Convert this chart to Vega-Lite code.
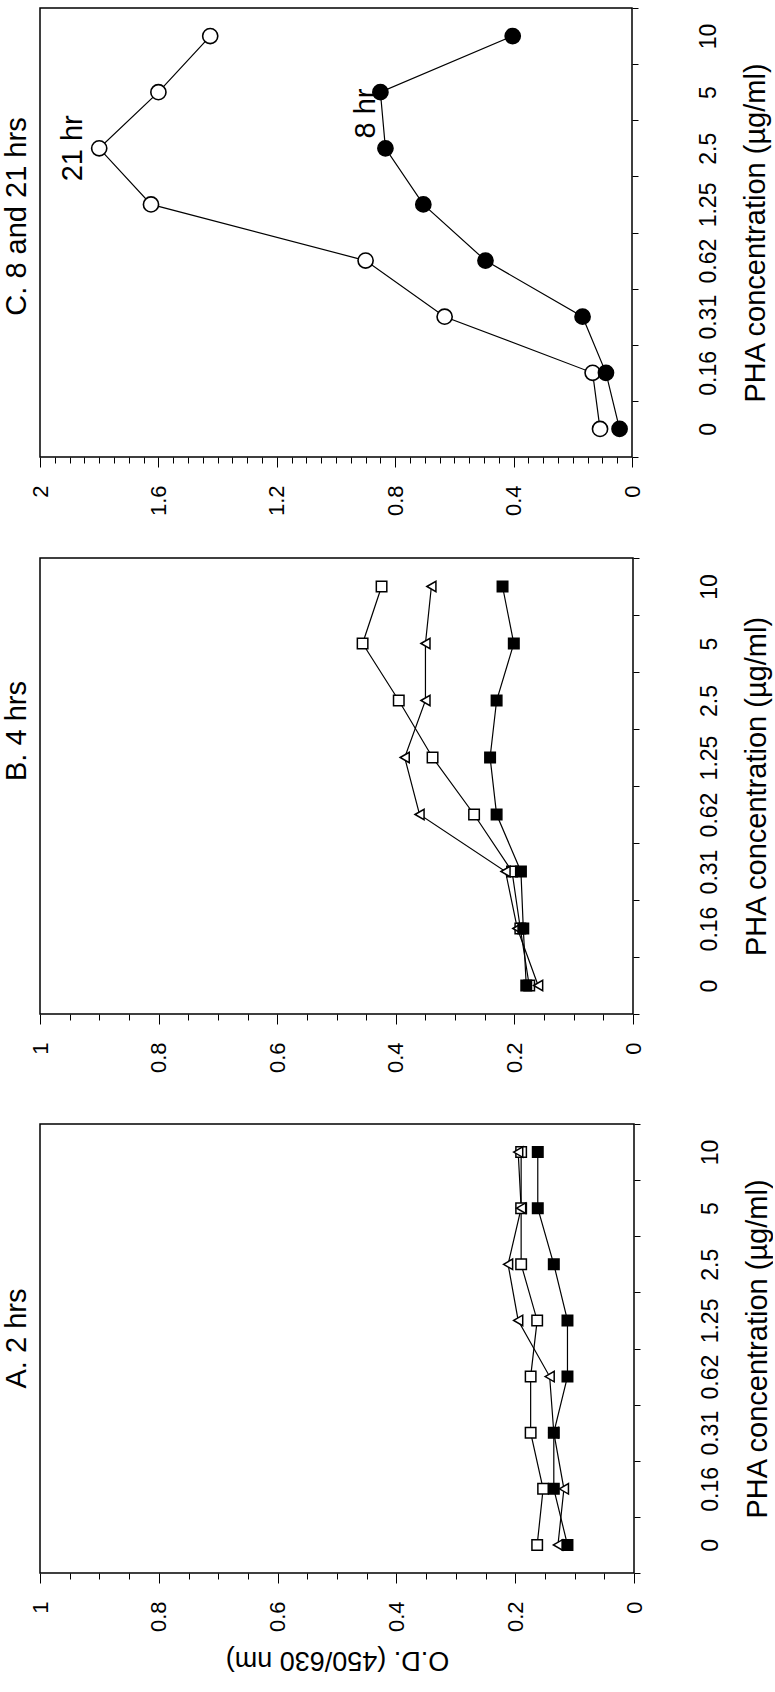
{
  "$schema": "https://vega.github.io/schema/vega-lite/v6.json",
  "padding": {"left": 2, "top": 6, "right": 0, "bottom": 0},
  "background": "white",
  "config": {
    "font": "Liberation Sans",
    "view": {"stroke": "black", "strokeWidth": 1.5},
    "axis": {"labelFont": "Liberation Sans", "titleFont": "Liberation Sans", "labelColor": "black", "titleColor": "black", "tickColor": "black", "domainColor": "black", "titleFontWeight": "normal", "grid": false},
    "title": {"font": "Liberation Sans", "fontWeight": "normal", "color": "black", "fontSize": 29}
  },
  "spacing": 39,
  "vconcat": [
    {
      "width": 592, "height": 449,
      "title": {"text": "C. 8 and 21 hrs", "orient": "left", "anchor": "middle", "offset": -3, "dx": 16},
      "data": {"values": [
        {"series": "21 hr", "conc": 0, "od": 0.108},
        {"series": "21 hr", "conc": 0.16, "od": 0.133},
        {"series": "21 hr", "conc": 0.31, "od": 0.633},
        {"series": "21 hr", "conc": 0.62, "od": 0.9},
        {"series": "21 hr", "conc": 1.25, "od": 1.625},
        {"series": "21 hr", "conc": 2.5, "od": 1.8},
        {"series": "21 hr", "conc": 5, "od": 1.6},
        {"series": "21 hr", "conc": 10, "od": 1.425},
        {"series": "8 hr", "conc": 0, "od": 0.042},
        {"series": "8 hr", "conc": 0.16, "od": 0.088},
        {"series": "8 hr", "conc": 0.31, "od": 0.167},
        {"series": "8 hr", "conc": 0.62, "od": 0.495},
        {"series": "8 hr", "conc": 1.25, "od": 0.705},
        {"series": "8 hr", "conc": 2.5, "od": 0.833},
        {"series": "8 hr", "conc": 5, "od": 0.85},
        {"series": "8 hr", "conc": 10, "od": 0.403}
      ]},
      "encoding": {
        "x": {"field": "od", "type": "quantitative",
          "scale": {"domain": [0, 2], "reverse": true, "nice": false, "zero": true},
          "axis": {"orient": "bottom", "title": null, "domain": false,
            "values": [0,0.05,0.1,0.15,0.2,0.25,0.3,0.35,0.4,0.45,0.5,0.55,0.6,0.65,0.7,0.75,0.8,0.85,0.9,0.95,1,1.05,1.1,1.15,1.2,1.25,1.3,1.35,1.4,1.45,1.5,1.55,1.6,1.65,1.7,1.75,1.8,1.85,1.9,1.95,2],
            "labelExpr": "abs(datum.value*2.5 - round(datum.value*2.5)) < 0.001 ? format(datum.value, '~g') : ''",
            "tickSize": {"condition": {"test": "abs(datum.value*2.5 - round(datum.value*2.5)) < 0.001", "value": 10}, "value": 6},
            "labelAngle": 270, "labelAlign": "right", "labelBaseline": "middle", "labelPadding": 18,
            "labelFontSize": 22, "labelFlush": false, "labelOverlap": false, "labelBound": false}},
        "y": {"field": "conc", "type": "ordinal", "sort": "descending",
          "scale": {"type": "band", "paddingInner": 0, "paddingOuter": 0},
          "axis": {"orient": "right", "title": "PHA concentration (µg/ml)", "tickBand": "extent", "domain": false,
            "tickSize": 6, "labelAngle": 270, "labelAlign": "center", "labelBaseline": "middle", "labelPadding": 70,
            "labelFontSize": 23, "titleFontSize": 29, "titleAngle": 270, "titleBaseline": "top", "titlePadding": 21}}
      },
      "layer": [
        {"mark": {"type": "line", "color": "black", "strokeWidth": 1.2},
         "encoding": {"detail": {"field": "series"}, "order": {"field": "conc", "type": "quantitative"}}},
        {"mark": {"type": "point", "shape": "circle", "size": 230, "stroke": "black", "strokeWidth": 1.6, "opacity": 1, "filled": true},
         "encoding": {"fill": {"condition": {"test": "datum.series === '8 hr'", "value": "black"}, "value": "white"}}},
        {"data": {"values": [{"label": "21 hr", "conc": 2.5, "od": 1.89}]},
         "mark": {"type": "text", "angle": 270, "fontSize": 29, "align": "center", "baseline": "middle", "color": "black"},
         "encoding": {
           "text": {"field": "label"},
           "y": {"field": "conc", "type": "ordinal", "sort": "descending", "bandPosition": 0.5}
         }},
        {"data": {"values": [{"label": "8 hr", "conc": 5, "od": 0.9}]},
         "mark": {"type": "text", "angle": 270, "fontSize": 29, "align": "center", "baseline": "middle", "color": "black"},
         "encoding": {
           "text": {"field": "label"},
           "y": {"field": "conc", "type": "ordinal", "sort": "descending", "bandPosition": 0.88}
         }}
      ]
    },
    {
      "spacing": 48,
      "vconcat": [
        {
          "width": 593, "height": 456,
          "title": {"text": "B. 4 hrs", "orient": "left", "anchor": "middle", "offset": -3, "dx": 55},
          "data": {"values": [
            {"series": "open square", "conc": 0, "od": 0.175},
            {"series": "open square", "conc": 0.16, "od": 0.19},
            {"series": "open square", "conc": 0.31, "od": 0.204},
            {"series": "open square", "conc": 0.62, "od": 0.268},
            {"series": "open square", "conc": 1.25, "od": 0.338},
            {"series": "open square", "conc": 2.5, "od": 0.395},
            {"series": "open square", "conc": 5, "od": 0.456},
            {"series": "open square", "conc": 10, "od": 0.424},
            {"series": "triangle", "conc": 0, "od": 0.16},
            {"series": "triangle", "conc": 0.16, "od": 0.195},
            {"series": "triangle", "conc": 0.31, "od": 0.215},
            {"series": "triangle", "conc": 0.62, "od": 0.36},
            {"series": "triangle", "conc": 1.25, "od": 0.385},
            {"series": "triangle", "conc": 2.5, "od": 0.35},
            {"series": "triangle", "conc": 5, "od": 0.35},
            {"series": "triangle", "conc": 10, "od": 0.34},
            {"series": "filled square", "conc": 0, "od": 0.18},
            {"series": "filled square", "conc": 0.16, "od": 0.185},
            {"series": "filled square", "conc": 0.31, "od": 0.189},
            {"series": "filled square", "conc": 0.62, "od": 0.23},
            {"series": "filled square", "conc": 1.25, "od": 0.241},
            {"series": "filled square", "conc": 2.5, "od": 0.23},
            {"series": "filled square", "conc": 5, "od": 0.201},
            {"series": "filled square", "conc": 10, "od": 0.22}
          ]},
          "encoding": {
            "x": {"field": "od", "type": "quantitative",
              "scale": {"domain": [0, 1], "reverse": true, "nice": false, "zero": true},
              "axis": {"orient": "bottom", "title": null, "domain": false,
                "values": [0,0.05,0.1,0.15,0.2,0.25,0.3,0.35,0.4,0.45,0.5,0.55,0.6,0.65,0.7,0.75,0.8,0.85,0.9,0.95,1],
                "labelExpr": "abs(datum.value*5 - round(datum.value*5)) < 0.001 ? format(datum.value, '~g') : ''",
                "tickSize": {"condition": {"test": "abs(datum.value*5 - round(datum.value*5)) < 0.001", "value": 10}, "value": 6},
                "labelAngle": 270, "labelAlign": "right", "labelBaseline": "middle", "labelPadding": 18,
                "labelFontSize": 22, "labelFlush": false, "labelOverlap": false, "labelBound": false}},
            "y": {"field": "conc", "type": "ordinal", "sort": "descending",
              "scale": {"type": "band", "paddingInner": 0, "paddingOuter": 0},
              "axis": {"orient": "right", "title": "PHA concentration (µg/ml)", "tickBand": "extent", "domain": false,
                "tickSize": 6, "labelAngle": 270, "labelAlign": "center", "labelBaseline": "middle", "labelPadding": 70,
                "labelFontSize": 23, "titleFontSize": 29, "titleAngle": 270, "titleBaseline": "top", "titlePadding": 21}}
          },
          "layer": [
            {"mark": {"type": "line", "color": "black", "strokeWidth": 1.2},
             "encoding": {"detail": {"field": "series"}, "order": {"field": "conc", "type": "quantitative"}}},
            {"mark": {"type": "point", "size": 110, "stroke": "black", "strokeWidth": 1.5, "opacity": 1, "filled": true},
             "encoding": {
               "shape": {"condition": {"test": "datum.series === 'triangle'", "value": "triangle-left"}, "value": "square"},
               "fill": {"condition": {"test": "datum.series === 'filled square'", "value": "black"}, "value": "white"}}}
          ]
        },
        {
          "width": 594, "height": 449,
          "title": {"text": "A. 2 hrs", "orient": "left", "anchor": "middle", "offset": -3, "dx": 10},
          "data": {"values": [
            {"series": "open square", "conc": 0, "od": 0.163},
            {"series": "open square", "conc": 0.16, "od": 0.153},
            {"series": "open square", "conc": 0.31, "od": 0.174},
            {"series": "open square", "conc": 0.62, "od": 0.174},
            {"series": "open square", "conc": 1.25, "od": 0.163},
            {"series": "open square", "conc": 2.5, "od": 0.19},
            {"series": "open square", "conc": 5, "od": 0.19},
            {"series": "open square", "conc": 10, "od": 0.19},
            {"series": "triangle", "conc": 0, "od": 0.128},
            {"series": "triangle", "conc": 0.16, "od": 0.118},
            {"series": "triangle", "conc": 0.31, "od": 0.135},
            {"series": "triangle", "conc": 0.62, "od": 0.142},
            {"series": "triangle", "conc": 1.25, "od": 0.195},
            {"series": "triangle", "conc": 2.5, "od": 0.212},
            {"series": "triangle", "conc": 5, "od": 0.19},
            {"series": "triangle", "conc": 10, "od": 0.195},
            {"series": "filled square", "conc": 0, "od": 0.112},
            {"series": "filled square", "conc": 0.16, "od": 0.135},
            {"series": "filled square", "conc": 0.31, "od": 0.135},
            {"series": "filled square", "conc": 0.62, "od": 0.112},
            {"series": "filled square", "conc": 1.25, "od": 0.112},
            {"series": "filled square", "conc": 2.5, "od": 0.135},
            {"series": "filled square", "conc": 5, "od": 0.162},
            {"series": "filled square", "conc": 10, "od": 0.162}
          ]},
          "encoding": {
            "x": {"field": "od", "type": "quantitative",
              "scale": {"domain": [0, 1], "reverse": true, "nice": false, "zero": true},
              "axis": {"orient": "bottom", "title": "O.D. (450/630 nm)", "domain": false,
                "values": [0,0.05,0.1,0.15,0.2,0.25,0.3,0.35,0.4,0.45,0.5,0.55,0.6,0.65,0.7,0.75,0.8,0.85,0.9,0.95,1],
                "labelExpr": "abs(datum.value*5 - round(datum.value*5)) < 0.001 ? format(datum.value, '~g') : ''",
                "tickSize": {"condition": {"test": "abs(datum.value*5 - round(datum.value*5)) < 0.001", "value": 10}, "value": 6},
                "labelAngle": 270, "labelAlign": "right", "labelBaseline": "middle", "labelPadding": 18,
                "labelFontSize": 22, "labelFlush": false, "labelOverlap": false, "labelBound": false,
                "titleFontSize": 27, "titleAngle": 180, "titleBaseline": "bottom", "titlePadding": 14}},
            "y": {"field": "conc", "type": "ordinal", "sort": "descending",
              "scale": {"type": "band", "paddingInner": 0, "paddingOuter": 0},
              "axis": {"orient": "right", "title": "PHA concentration (µg/ml)", "tickBand": "extent", "domain": false,
                "tickSize": 6, "labelAngle": 270, "labelAlign": "center", "labelBaseline": "middle", "labelPadding": 70,
                "labelFontSize": 23, "titleFontSize": 29, "titleAngle": 270, "titleBaseline": "top", "titlePadding": 21}}
          },
          "layer": [
            {"mark": {"type": "line", "color": "black", "strokeWidth": 1.2},
             "encoding": {"detail": {"field": "series"}, "order": {"field": "conc", "type": "quantitative"}}},
            {"mark": {"type": "point", "size": 110, "stroke": "black", "strokeWidth": 1.5, "opacity": 1, "filled": true},
             "encoding": {
               "shape": {"condition": {"test": "datum.series === 'triangle'", "value": "triangle-left"}, "value": "square"},
               "fill": {"condition": {"test": "datum.series === 'filled square'", "value": "black"}, "value": "white"}}}
          ]
        }
      ]
    }
  ]
}
